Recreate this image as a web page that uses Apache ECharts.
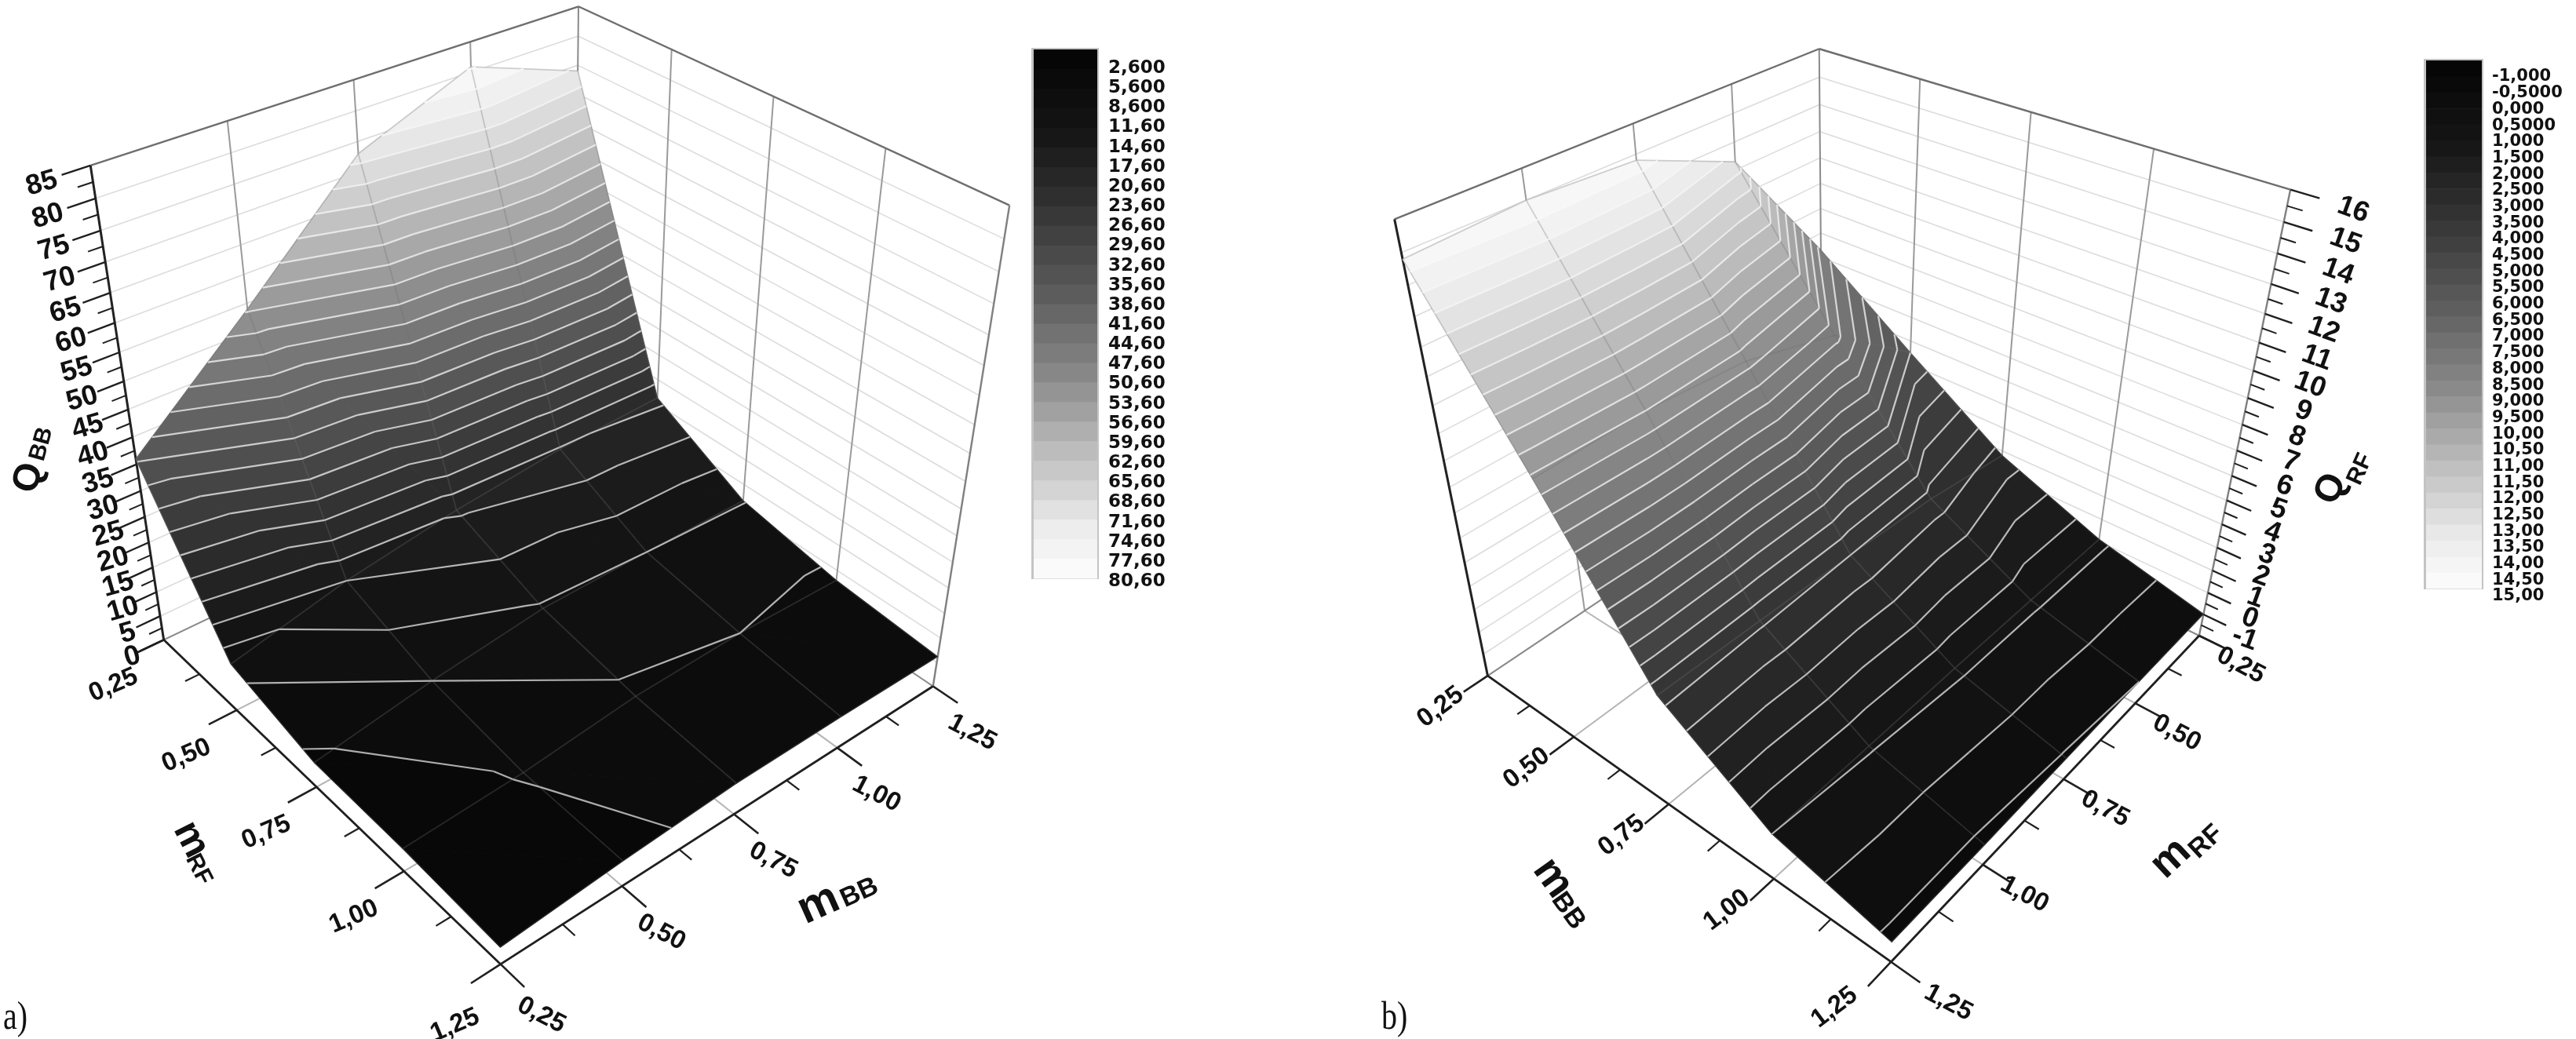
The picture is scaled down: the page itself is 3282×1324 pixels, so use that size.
<!DOCTYPE html>
<html><head><meta charset="utf-8">
<script src="https://cdn.jsdelivr.net/npm/echarts@6/dist/echarts.min.js"></script>
<style>html,body{margin:0;background:#fff}#c{width:3282px;height:1324px;filter:blur(0.6px)}</style>
</head><body><div id="c"></div>
<script>
// ---------- data ----------
const massTicks = [0.25, 0.5, 0.75, 1, 1.25];
const massMinorTicks = [0.375, 0.625, 0.875, 1.125];
const massLabels = ['0,25', '0,50', '0,75', '1,00', '1,25'];

const qbbTicks = [0,5,10,15,20,25,30,35,40,45,50,55,60,65,70,75,80,85];
const qrfTicks = [-1,0,1,2,3,4,5,6,7,8,9,10,11,12,13,14,15,16];

const qbbLevels = [2.6,5.6,8.6,11.6,14.6,17.6,20.6,23.6,26.6,29.6,32.6,35.6,38.6,41.6,44.6,47.6,50.6,53.6,56.6,59.6,62.6,65.6,68.6,71.6,74.6,77.6,80.6];
const qbbLevelLabels = ['2,600','5,600','8,600','11,60','14,60','17,60','20,60','23,60','26,60','29,60','32,60','35,60','38,60','41,60','44,60','47,60','50,60','53,60','56,60','59,60','62,60','65,60','68,60','71,60','74,60','77,60','80,60'];
const qrfLevels = [-1,-0.5,0,0.5,1,1.5,2,2.5,3,3.5,4,4.5,5,5.5,6,6.5,7,7.5,8,8.5,9,9.5,10,10.5,11,11.5,12,12.5,13,13.5,14,14.5,15];
const qrfLevelLabels = ['-1,000','-0,5000','0,000','0,5000','1,000','1,500','2,000','2,500','3,000','3,500','4,000','4,500','5,000','5,500','6,000','6,500','7,000','7,500','8,000','8,500','9,000','9,500','10,00','10,50','11,00','11,50','12,00','12,50','13,00','13,50','14,00','14,50','15,00'];

// rows: mRF 0.25..1.25, columns: mBB 0.25..1.25
const qbbSurface = [
  [36.0, 54.0, 73.0, 80.9, 74.0],
  [ 9.5, 14.6, 18.0, 20.3, 21.3],
  [ 5.0,  8.6, 11.3, 11.6, 11.7],
  [ 4.6,  5.7,  8.0,  8.6,  8.0],
  [ 3.4,  5.1,  6.3,  6.4,  6.2]
];
const qrfSurface = [
  [ 8.3, 5.5, 2.8, 1.1,  0.02],
  [13.3, 8.2, 3.3, 1.1,  0.0],
  [14.8, 9.2, 3.5, 1.1, -0.05],
  [15.0, 9.5, 3.6, 1.05, -0.1],
  [14.8, 9.4, 3.7, 1.0, -0.1]
];

// ---------- drawing helpers ----------
const FRAME_W = 3282, FRAME_H = 1324;
const GREY_STOPS = [[0,6],[.15,22],[.31,56],[.46,92],[.615,135],[.77,188],[.92,236],[1,250]];
function grey(t){
  t = Math.max(0, Math.min(1, t));
  for (let i = 1; i < GREY_STOPS.length; i++) {
    const [a, ga] = GREY_STOPS[i-1], [b, gb] = GREY_STOPS[i];
    if (t <= b) { const g = Math.round(ga + (gb-ga)*(t-a)/(b-a)); return `rgb(${g},${g},${g})`; }
  }
  return 'rgb(250,250,250)';
}
function solve(A, b){
  const n = b.length, M = A.map((r,i)=>r.concat(b[i]));
  for (let c=0;c<n;c++){
    let p=c; for(let r=c+1;r<n;r++) if(Math.abs(M[r][c])>Math.abs(M[p][c])) p=r;
    [M[c],M[p]]=[M[p],M[c]];
    for(let r=0;r<n;r++) if(r!==c){ const f=M[r][c]/M[c][c]; for(let k=c;k<=n;k++) M[r][k]-=f*M[c][k]; }
  }
  return M.map((r,i)=>r[n]/r[i]);
}
function fitCamera(corners){
  const rows=[], rhs=[];
  corners.forEach(([[X,Y,Z],[px,py]])=>{
    const u=px/1000,v=py/1000;
    rows.push([X,Y,Z,1,0,0,0,0,-u*X,-u*Y,-u*Z]); rhs.push(u);
    rows.push([0,0,0,0,X,Y,Z,1,-v*X,-v*Y,-v*Z]); rhs.push(v);
  });
  const N=11, A=[...Array(N)].map(()=>Array(N).fill(0)), b=Array(N).fill(0);
  rows.forEach((r,k)=>{ for(let i=0;i<N;i++){ b[i]+=r[i]*rhs[k]; for(let j=0;j<N;j++) A[i][j]+=r[i]*r[j]; } });
  const p=solve(A,b);
  return (X,Y,Z)=>{ const w=p[8]*X+p[9]*Y+p[10]*Z+1;
    return [1000*(p[0]*X+p[1]*Y+p[2]*Z+p[3])/w, 1000*(p[4]*X+p[5]*Y+p[6]*Z+p[7])/w]; };
}
function clipBand(poly, lim, keepAbove){
  const out=[];
  for(let i=0;i<poly.length;i++){
    const a=poly[i], b=poly[(i+1)%poly.length];
    const ia=keepAbove? a[2]>=lim : a[2]<=lim, ib=keepAbove? b[2]>=lim : b[2]<=lim;
    if(ia) out.push(a);
    if(ia!==ib){ const t=(lim-a[2])/(b[2]-a[2]); out.push([a[0]+t*(b[0]-a[0]),a[1]+t*(b[1]-a[1]),lim]); }
  }
  return out;
}
function buildPanel(cfg){
  const prims=[], {surface,levels,zTicks,zMin,zMax}=cfg;
  const project=fitCamera(cfg.corners);
  const nx=v=>(v-massTicks[0])/(massTicks[4]-massTicks[0]);
  const nz=v=>(v-zMin)/(zMax-zMin);
  const P=(rf,bb,q)=>project(nx(rf),nx(bb),nz(q));
  const line=(a,b,stroke,w)=>prims.push({k:'l',a,b,stroke,w});
  const text=(pos,s,font,rot,o={})=>prims.push({k:'t',pos,s,font,rot,...o});
  const r0=massTicks[0];
  const {wallRf,wallBb,frontRf,frontBb,zAxisRf,zAxisBb}=cfg.layout;
  zTicks.forEach(q=>{
    line(P(wallRf,frontBb,q),P(wallRf,wallBb,q),'#dcdcdc',1.6);
    line(P(wallRf,wallBb,q),P(frontRf,wallBb,q),'#dcdcdc',1.6);
  });
  massTicks.slice(1,4).forEach(m=>{
    line(P(wallRf,m,zMin),P(wallRf,m,zMax),'#9a9a9a',2);
    line(P(m,wallBb,zMin),P(m,wallBb,zMax),'#9a9a9a',2);
    line(P(m,frontBb,zMin),P(m,wallBb,zMin),'#b4b4b4',2);
    line(P(frontRf,m,zMin),P(wallRf,m,zMin),'#b4b4b4',2);
  });
  line(P(wallRf,frontBb,zMin),P(wallRf,wallBb,zMin),'#8a8a8a',2);
  line(P(wallRf,wallBb,zMin),P(frontRf,wallBb,zMin),'#8a8a8a',2);
  line(P(wallRf,wallBb,zMin),P(wallRf,wallBb,zMax),'#8a8a8a',2);
  line(P(wallRf,frontBb,zMax),P(wallRf,wallBb,zMax),'#6e6e6e',2.4);
  line(P(wallRf,wallBb,zMax),P(frontRf,wallBb,zMax),'#6e6e6e',2.4);
  line(P(wallRf,frontBb,zMin),P(wallRf,frontBb,zMax),cfg.zAtLeft?'#222':'#808080',cfg.zAtLeft?3:2.4);
  line(P(frontRf,wallBb,zMin),P(frontRf,wallBb,zMax),cfg.zAtLeft?'#808080':'#222',cfg.zAtLeft?2.4:3);
  const cells=[];
  for(let i=0;i<4;i++) for(let j=0;j<4;j++) cells.push([i,j]);
  const backI=wallRf===r0?0:3, backJ=wallBb===r0?0:3;
  cells.sort((a,b)=>(Math.abs(a[0]-backI)+Math.abs(a[1]-backJ))-(Math.abs(b[0]-backI)+Math.abs(b[1]-backJ)));
  const bands=[-Infinity,...levels,Infinity], contours=[];
  const vmin=levels[0], vmax=levels[levels.length-1];
  cells.forEach(([i,j])=>{
    const v=(a,b)=>[massTicks[a],massTicks[b],surface[a][b]];
    [[v(i,j),v(i+1,j),v(i+1,j+1)],[v(i,j),v(i+1,j+1),v(i,j+1)]].forEach(tri=>{
      for(let b=0;b<bands.length-1;b++){
        let poly=tri;
        if(bands[b]!==-Infinity) poly=clipBand(poly,bands[b],true);
        if(poly.length&&bands[b+1]!==Infinity) poly=clipBand(poly,bands[b+1],false);
        if(poly.length<3) continue;
        const lo=Math.max(bands[b],vmin), hi=Math.min(bands[b+1],vmax);
        const fill=grey(((lo+hi)/2-vmin)/(vmax-vmin));
        prims.push({k:'p',pts:poly.map(p=>P(p[0],p[1],p[2])),fill});
      }
      levels.forEach(lv=>{
        const cross=[];
        for(let e=0;e<3;e++){ const a=tri[e],c=tri[(e+1)%3];
          if((a[2]<lv)!==(c[2]<lv)){ const t=(lv-a[2])/(c[2]-a[2]); cross.push(P(a[0]+t*(c[0]-a[0]),a[1]+t*(c[1]-a[1]),lv)); } }
        if(cross.length===2) contours.push([cross[0],cross[1],lv]);
      });
    });
  });
  for(let i=0;i<5;i++) for(let j=0;j<4;j++){
    line(P(massTicks[i],massTicks[j],surface[i][j]),P(massTicks[i],massTicks[j+1],surface[i][j+1]),'rgba(110,110,110,0.3)',1.8);
    line(P(massTicks[j],massTicks[i],surface[j][i]),P(massTicks[j+1],massTicks[i],surface[j+1][i]),'rgba(110,110,110,0.3)',1.8);
  }
  contours.forEach(s=>{
    const g=Math.round(170+80*(s[2]-vmin)/(vmax-vmin));
    line(s[0],s[1],`rgb(${g},${g},${g})`,2.2);
  });
  const AX='#1f1f1f', FB='"Liberation Sans",Arial,sans-serif';
  line(P(frontRf,frontBb,zMin),P(wallRf,frontBb,zMin),AX,2.8);
  line(P(frontRf,frontBb,zMin),P(frontRf,wallBb,zMin),AX,2.8);
  const dRf=Math.sign(frontRf-wallRf), dBb=Math.sign(frontBb-wallBb);
  massTicks.forEach((m,i)=>{
    let q=P(m,frontBb,zMin), e=P(m,frontBb+dBb*0.058,zMin);
    line(q,e,AX,2.6);
    // labels of the two ticks at the front corner sit further out
    const xr=m===frontRf?cfg.cornerRf:[0,0], xb=m===frontBb?cfg.cornerBb:[0,0];
    text([q[0]+cfg.rfOff[0]+xr[0],q[1]+cfg.rfOff[1]+xr[1]],massLabels[i],`bold ${cfg.tickFont}px ${FB}`,cfg.rfRot);
    q=P(frontRf,m,zMin); e=P(frontRf+dRf*0.058,m,zMin);
    line(q,e,AX,2.6);
    text([q[0]+cfg.bbOff[0]+xb[0],q[1]+cfg.bbOff[1]+xb[1]],massLabels[i],`bold ${cfg.tickFont}px ${FB}`,cfg.bbRot);
  });
  massMinorTicks.forEach(m=>{
    line(P(m,frontBb,zMin),P(m,frontBb+dBb*0.03,zMin),AX,2.2);
    line(P(frontRf,m,zMin),P(frontRf+dRf*0.03,m,zMin),AX,2.2);
  });
  const zo=cfg.zOut, [oB,oT]=cfg.zLabelOff;
  zTicks.forEach((q,i)=>{
    const b=P(zAxisRf,zAxisBb,q);
    line(b,P(zAxisRf,zAxisBb+zo*0.05,q),AX,2.4);
    if(i<zTicks.length-1){ const h=(q+zTicks[i+1])/2; line(P(zAxisRf,zAxisBb,h),P(zAxisRf,zAxisBb+zo*0.027,h),AX,2); }
    const f=nz(q);
    text([b[0]+oB[0]+(oT[0]-oB[0])*f,b[1]+oB[1]+(oT[1]-oB[1])*f],String(q),`bold ${cfg.zFont}px ${FB}`,cfg.zRot);
  });
  cfg.titles.forEach(t=>text(t.pos,t.s,`bold ${t.size}px ${FB}`,t.rot));
  const L=cfg.key, n=levels.length, bh=(L.y1-L.y0)/n;
  prims.push({k:'r',x:L.x0-3,y:L.y0-2,w:L.x1-L.x0+5,h:L.y1-L.y0+3,fill:'#c4c4c4'});
  levels.forEach((lv,i)=>{
    prims.push({k:'r',x:L.x0,y:L.y0+i*bh,w:L.x1-L.x0,h:bh+0.6,fill:grey((lv-vmin)/(vmax-vmin))});
  });
  cfg.levelLabels.forEach((s,i)=>{
    const y=L.ly0+i*(L.ly1-L.ly0)/(n-1);
    text([L.lx,y],s,`bold ${L.size}px "DejaVu Sans",sans-serif`,0,{align:'left'});
  });
  text(cfg.tag.pos,cfg.tag.s,'50px "Liberation Serif",serif',0,{align:'left',scaleX:0.8});
  return prims;
}

const panelA = buildPanel({
  surface:qbbSurface, levels:qbbLevels, levelLabels:qbbLevelLabels, zTicks:qbbTicks, zMin:0, zMax:85,
  layout:{wallRf:0.25,wallBb:1.25,frontRf:1.25,frontBb:0.25,zAxisRf:0.25,zAxisBb:0.25},
  zAtLeft:true, zOut:-1,
  corners:[[[0,0,0],[207,815]],[[0,0,1],[117,211]],[[1,0,0],[638,1229]],[[1,1,0],[1187,874]],[[1,1,1],[1288,262]],[[0,1,0],[734,566]],[[0,1,1],[734,8]]],
  rfOff:[-64,58], bbOff:[50,59], cornerRf:[6,20], cornerBb:[2,6], rfRot:0.4, bbRot:-0.48, tickFont:33,
  zLabelOff:[[-40,22],[-62,23]], zRot:0.28, zFont:36,
  titles:[{pos:[37,609],s:'Q',size:48,rot:1.3},{pos:[53,566],s:'BB',size:30,rot:1.3},
          {pos:[243,1070],s:'m',size:50,rot:-1.1},{pos:[253,1108],s:'RF',size:30,rot:-1.1},
          {pos:[1043,1153],s:'m',size:58,rot:0.42},{pos:[1095,1138],s:'BB',size:34,rot:0.42}],
  key:{x0:1317,x1:1398,y0:63,y1:737,lx:1412,ly0:87,ly1:741,size:23},
  tag:{pos:[4,1298],s:'a)'}
});
const panelB = buildPanel({
  surface:qrfSurface, levels:qrfLevels, levelLabels:qrfLevelLabels, zTicks:qrfTicks, zMin:-1, zMax:16,
  layout:{wallRf:0.25,wallBb:0.25,frontRf:1.25,frontBb:1.25,zAxisRf:0.25,zAxisBb:1.25},
  zAtLeft:false, zOut:1,
  corners:[[[1,0,0],[1897,862]],[[1,0,1],[1775,279]],[[1,1,0],[2409,1225]],[[0,1,0],[2803,811]],[[0,1,1],[2917,241]],[[0,0,0],[2320,574]],[[0,0,1],[2320,63]]],
  rfOff:[53,38], bbOff:[-60,40], cornerRf:[20,14], cornerBb:[-12,18], rfRot:-0.49, bbRot:0.65, tickFont:33,
  zLabelOff:[[58,4],[80,26]], zRot:-0.35, zFont:36,
  titles:[{pos:[2970,623],s:'Q',size:48,rot:1.15},{pos:[3007,598],s:'RF',size:30,rot:1.15},
          {pos:[1978,1119],s:'m',size:54,rot:-0.95},{pos:[1998,1161],s:'BB',size:34,rot:-0.95},
          {pos:[2766,1094],s:'m',size:54,rot:0.75},{pos:[2811,1073],s:'RF',size:34,rot:0.75}],
  key:{x0:3091,x1:3162,y0:77,y1:750,lx:3175,ly0:98,ly1:760,size:21},
  tag:{pos:[1760,1298],s:'b)'}
});
function renderer(prims){
  return function(params, api){
    const p=prims[params.dataIndex], c=q=>api.coord(q);
    if(p.k==='p') return {type:'polygon',shape:{points:p.pts.map(c)},style:{fill:p.fill,stroke:p.fill,lineWidth:1}};
    if(p.k==='l'){ const a=c(p.a), b=c(p.b);
      return {type:'line',shape:{x1:a[0],y1:a[1],x2:b[0],y2:b[1]},style:{stroke:p.stroke,lineWidth:p.w,fill:null}}; }
    if(p.k==='r'){ const a=c([p.x,p.y]), b=c([p.x+p.w,p.y+p.h]);
      return {type:'rect',shape:{x:a[0],y:a[1],width:b[0]-a[0],height:b[1]-a[1]},style:{fill:p.fill}}; }
    const q=c(p.pos);
    return {type:'text',x:q[0],y:q[1],rotation:p.rot||0,scaleX:p.scaleX||1,
      style:{text:p.s,font:p.font,fill:'#111',align:p.align||'center',verticalAlign:'middle',textAlign:p.align||'center',textVerticalAlign:'middle'}};
  };
}
function series(name,prims){
  return {type:'custom',name,coordinateSystem:'cartesian2d',silent:true,clip:false,animation:false,
    renderItem:renderer(prims),data:prims.map((_,i)=>[i,0])};
}
const chart=echarts.init(document.getElementById('c'),null,{renderer:'canvas'});
chart.setOption({
  animation:false,backgroundColor:'#fff',
  grid:{left:0,right:0,top:0,bottom:0},
  xAxis:{type:'value',min:0,max:FRAME_W,show:false},
  yAxis:{type:'value',min:0,max:FRAME_H,inverse:true,show:false},
  series:[series('QBB',panelA),series('QRF',panelB)]
});
</script></body></html>
